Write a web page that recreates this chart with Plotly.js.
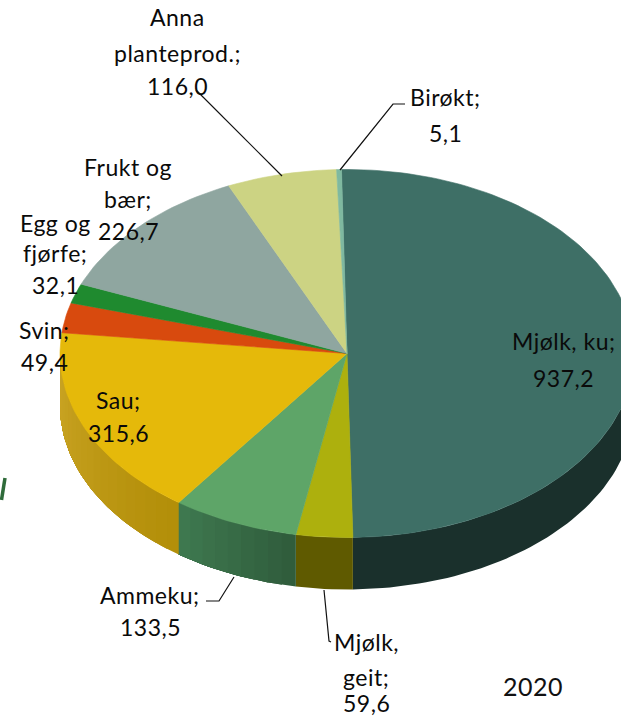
<!DOCTYPE html>
<html><head><meta charset="utf-8">
<script src="https://cdn.plot.ly/plotly-3.0.1.min.js"></script>
<style>html,body{margin:0;padding:0;background:#fff;overflow:hidden}#c{width:621px;height:718px}
.annotation-text{letter-spacing:.5px}</style></head><body><div id="c"></div>
<script>
// Data (clockwise from 12 o'clock)
const categories=["Mjølk, ku","Mjølk, geit","Ammeku","Sau","Svin","Egg og fjørfe","Frukt og bær","Anna planteprod.","Birøkt"];
const values=[937.2,59.6,133.5,315.6,49.4,32.1,226.7,116.0,5.1];
const topColors=["#3e6f66","#adb00d","#5ea568","#e5b90a","#d84a0e","#1f8a2f","#8fa6a0","#ccd383","#7fb9a0"];
const sideStart=["#1a302c","#5f5a00","#2f5b3b","#b28e08","#b28e08","#b28e08","#b28e08","#b28e08","#b28e08"];
const sideEnd=["#1a302c","#5f5a00","#3f7a50","#cba525","#cba525","#cba525","#cba525","#cba525","#cba525"];
const labelLines=[["Mjølk, ku;"],["Mjølk,","geit;"],["Ammeku;"],["Sau;"],["Svin;"],["Egg og","fjørfe;"],["Frukt og","bær;"],["Anna","planteprod.;"],["Birøkt;"]];
const labelX=[563,366,150,118,44,55,128,177,445];
const labelY=[[341,378],[642,677,703],[595,627],[400,433],[330,362],[223,253,285],[167,199,231],[17,53,86],[97,133]];
const leaderX=[[196,282],[405,393,340],[206,219,234],[324,329,331]];
const leaderY=[[90,176],[104,104,170],[601,601,577],[590,641,642]];
const fragmentX=[5,1.5];
const fragmentY=[478,500];
const yearLabel="2020";
// Geometry of the tilted disc (pixel-scaled axes)
const cx=347,cy=353.5,rx=287,ry=184,depth=52,rot=-1.1;
const total=values.reduce((a,b)=>a+b,0);
const pt=(deg,d=0)=>{const r=(deg+rot)*Math.PI/180;return [cx+rx*Math.sin(r),cy-ry*Math.cos(r)+d];};
const hex=c=>[1,3,5].map(i=>parseInt(c.substr(i,2),16));
const mix=(a,b,t)=>{const A=hex(a),B=hex(b);return `rgb(${A.map((v,i)=>Math.round(v+(B[i]-v)*t)).join(",")})`;};
function poly(pts,color,w){return {type:"scatter",mode:"lines",x:pts.map(p=>p[0]),y:pts.map(p=>p[1]),fill:"toself",fillcolor:color,line:{color:color,width:w},hoverinfo:"skip",showlegend:false};}
const sides=[],tops=[];
let cum=0;
values.forEach((v,i)=>{
  const a0=cum/total*360,a1=(cum+v)/total*360;cum+=v;
  const s0=Math.max(a0,85),s1=Math.min(a1,272);
  if(s1>s0){
    const n=sideStart[i]===sideEnd[i]?1:Math.ceil((s1-s0)/3);
    for(let k=0;k<n;k++){
      const u=s0+(s1-s0)*k/n,pts=[],steps=Math.max(2,Math.ceil((s1-u)/1.5));
      for(let j=0;j<=steps;j++)pts.push(pt(u+(s1-u)*j/steps));
      for(let j=steps;j>=0;j--)pts.push(pt(u+(s1-u)*j/steps,depth));
      pts.push(pts[0]);
      sides.push(poly(pts,mix(sideStart[i],sideEnd[i],(k+.5)/n),0));
    }
  }
  const pts=[[cx,cy]];
  const n=Math.max(2,Math.ceil((a1-a0)/1.5));
  for(let j=0;j<=n;j++)pts.push(pt(a0+(a1-a0)*j/n));
  pts.push([cx,cy]);
  tops.push(poly(pts,topColors[i],0.6));
});
const leaders=leaderX.map((x,i)=>({type:"scatter",mode:"lines",x:x,y:leaderY[i],line:{color:"#111",width:1.2},hoverinfo:"skip",showlegend:false}));
const fragment={type:"scatter",mode:"lines",x:fragmentX,y:fragmentY,line:{color:"#2f6b3a",width:3.5},hoverinfo:"skip",showlegend:false};
const fmt=v=>v.toFixed(1).replace(".",",");
const annotations=[];
values.forEach((v,i)=>{
  const lines=labelLines[i].concat([fmt(v)]);
  lines.forEach((t,j)=>annotations.push({x:labelX[i],y:labelY[i][j],xref:"x",yref:"y",text:t,showarrow:false,xanchor:"center",yanchor:"middle",font:{family:"Lato, Carlito, sans-serif",size:23,color:"#0a0a0a"}}));
});
annotations.push({x:533,y:686,xref:"x",yref:"y",text:yearLabel,showarrow:false,font:{family:"Lato, sans-serif",size:25,color:"#111"}});
Plotly.newPlot("c",[...sides,...tops,...leaders,fragment],{
  width:621,height:718,margin:{l:0,r:0,t:0,b:0},paper_bgcolor:"#fff",plot_bgcolor:"#fff",showlegend:false,hovermode:false,
  xaxis:{range:[0,621],visible:false,fixedrange:true},
  yaxis:{range:[718,0],visible:false,fixedrange:true},
  annotations:annotations
},{displayModeBar:false,staticPlot:true});
</script></body></html>
